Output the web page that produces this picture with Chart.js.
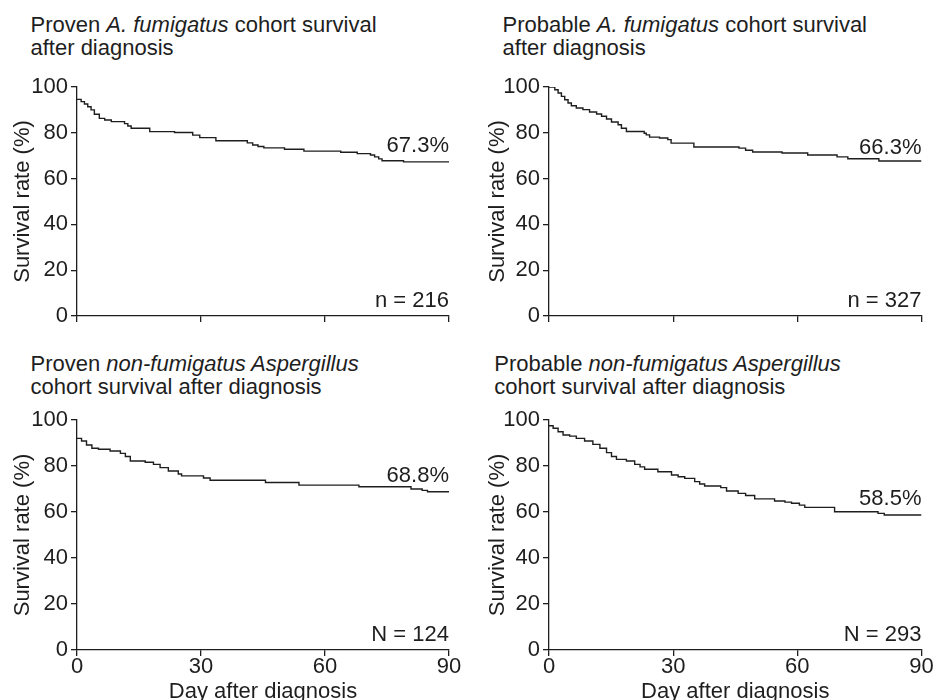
<!DOCTYPE html>
<html>
<head>
<meta charset="utf-8">
<script src="https://cdn.jsdelivr.net/npm/chart.js@4.4.0/dist/chart.umd.min.js"></script>
<style>
  html, body { margin: 0; padding: 0; background: #fff; overflow: hidden; width: 933px; height: 700px; }
  .panel-title { position: absolute; font: 22px/23px "Liberation Sans", Arial, sans-serif; color: #1e1e1e; white-space: nowrap; }
  canvas { position: absolute; }
</style>
</head>
<body>

<div class="panel-title" style="left:30.5px; top:12.6px">Proven <i>A. fumigatus</i> cohort survival<br>after diagnosis</div>
<div class="panel-title" style="left:502.6px; top:12.6px">Probable <i>A. fumigatus</i> cohort survival<br>after diagnosis</div>
<div class="panel-title" style="left:30.5px; top:351.6px">Proven <i>non-fumigatus Aspergillus</i><br>cohort survival after diagnosis</div>
<div class="panel-title" style="left:494.3px; top:351.6px">Probable <i>non-fumigatus Aspergillus</i><br>cohort survival after diagnosis</div>

<canvas id="chart1" width="466" height="270" style="left:0; top:70px"></canvas>
<canvas id="chart2" width="480" height="270" style="left:466px; top:70px"></canvas>
<canvas id="chart3" width="466" height="305" style="left:0; top:400px"></canvas>
<canvas id="chart4" width="480" height="305" style="left:466px; top:400px"></canvas>

<script>
// axis ticks
var xTicks = [0, 30, 60, 90];
var yTicks = [0, 20, 40, 60, 80, 100];

// proven A. fumigatus (day, survival %)
var provenFumDays = [0, 1, 1.8, 2.6, 3.4, 4.2, 5.4, 6.7, 8.3, 11.5, 12.3, 13.1, 17.6, 23.6, 28, 29.7, 33.6, 41.2, 42.5, 43.8, 45.2, 50.2, 54.9, 63.8, 67.8, 71, 72, 73, 73.8, 79, 90];
var provenFumSurv = [94.6, 93.6, 92.6, 91.4, 90.0, 88.1, 86.3, 85.6, 84.9, 84.0, 83.0, 82.0, 80.5, 80.1, 79.0, 77.9, 76.5, 75.6, 74.7, 74.0, 73.4, 72.8, 72.0, 71.5, 70.9, 70.3, 69.5, 68.6, 67.8, 67.3, 67.3];

// probable A. fumigatus
var probableFumDays = [0, 1.4, 2.2, 3.0, 3.8, 4.6, 5.4, 6.6, 8.2, 9.8, 11.5, 12.7, 13.9, 15.1, 16.7, 17.5, 18.7, 23.0, 23.5, 24.3, 26.7, 28.7, 29.5, 35.0, 45.9, 47.5, 49.2, 56.3, 62.5, 69.6, 72.2, 79.7, 90];
var probableFumSurv = [100, 98.8, 97.4, 95.9, 94.4, 93.0, 91.8, 90.8, 90.1, 89.1, 88.2, 87.2, 86.0, 84.7, 83.5, 82.0, 80.6, 79.8, 79.1, 78.1, 77.7, 77.0, 75.5, 73.8, 73.3, 72.4, 71.6, 71.2, 70.3, 69.5, 68.7, 67.7, 67.7];

// proven non-fumigatus Aspergillus
var provenNonDays = [0, 1.1, 2.3, 3.6, 5.2, 8.0, 10.5, 11.7, 12.9, 16.5, 18.5, 20.1, 22.1, 24.5, 25.3, 30.6, 32.2, 45.6, 53.7, 68.2, 80.8, 83.5, 84.8, 90];
var provenNonSurv = [92.0, 90.9, 89.1, 87.7, 87.3, 86.5, 85.5, 84.1, 82.2, 81.6, 80.7, 79.3, 77.8, 76.5, 75.7, 74.8, 73.8, 72.8, 71.7, 71.0, 70.0, 69.4, 68.8, 68.8];

// probable non-fumigatus Aspergillus
var probableNonDays = [0, 1.0, 2.2, 3.4, 5.0, 6.6, 8.6, 10.6, 12.3, 13.9, 15.1, 16.3, 18.7, 20.7, 22.0, 23.1, 26.3, 29.6, 31.2, 32.8, 35.2, 36.4, 37.6, 41.5, 42.9, 45.7, 47.5, 49.7, 54.5, 57.0, 58.6, 60.5, 61.8, 69.0, 79.5, 81.0, 90];
var probableNonSurv = [97.5, 96.4, 94.9, 93.5, 93.0, 92.0, 90.9, 89.4, 87.7, 85.8, 84.1, 82.9, 82.2, 80.7, 79.6, 78.6, 77.5, 76.1, 75.3, 74.6, 73.2, 72.2, 71.3, 70.6, 69.1, 68.1, 67.2, 65.7, 64.8, 64.3, 63.8, 63.0, 62.0, 60.1, 59.4, 58.7, 58.7];

// text in the corners
var endLabels = ['67.3%', '66.3%', '68.8%', '58.5%'];
var endValues = [67.3, 66.3, 68.8, 58.5];
var sizeLabels = ['n = 216', 'n = 327', 'N = 124', 'N = 293'];

var ink = '#1e1e1e';
var family = '"Liberation Sans", Arial, sans-serif';

// writes the final % and the cohort size inside the plot
var cornerText = {
  id: 'cornerText',
  afterDatasetsDraw: function (chart, args, opts) {
    var ctx = chart.ctx;
    var xs = chart.scales.x, ys = chart.scales.y;
    ctx.save();
    ctx.font = '22px ' + family;
    ctx.fillStyle = ink;
    ctx.textAlign = 'right';
    ctx.textBaseline = 'alphabetic';
    ctx.fillText(opts.end, xs.right, ys.getPixelForValue(opts.endValue) - 10);
    ctx.fillText(opts.n, xs.right, ys.getPixelForValue(0) - 9);
    ctx.restore();
  }
};

function makePanel(canvasId, days, surv, idx, look) {
  var points = days.map(function (d, i) { return { x: d, y: surv[i] }; });

  return new Chart(canvasId, {
    type: 'line',
    data: {
      datasets: [{
        data: points,
        stepped: true,
        borderColor: ink,
        borderWidth: 1.4,
        pointRadius: 0,
        fill: false
      }]
    },
    options: {
      responsive: false,
      animation: false,
      events: [],
      layout: { padding: { left: 0, top: look.top, right: look.right, bottom: 0 } },
      plugins: {
        legend: { display: false },
        tooltip: { enabled: false },
        cornerText: { end: endLabels[idx], endValue: endValues[idx], n: sizeLabels[idx] }
      },
      scales: {
        x: {
          type: 'linear',
          min: 0,
          max: 90,
          afterBuildTicks: function (s) { s.ticks = xTicks.map(function (v) { return { value: v }; }); },
          afterFit: function (s) { s.height = look.xHeight; },
          grid: { display: true, drawOnChartArea: false, drawTicks: true, tickLength: 6, color: ink, lineWidth: 1.3 },
          border: { display: true, color: ink, width: 1.3 },
          ticks: {
            display: look.xLabels,
            color: ink,
            font: { family: family, size: 22, lineHeight: 1 },
            padding: 0,
            maxRotation: 0,
            autoSkip: false
          },
          title: {
            display: look.xLabels,
            text: 'Day after diagnosis',
            color: ink,
            font: { family: family, size: 22 },
            padding: { top: 0, bottom: 0 }
          }
        },
        y: {
          min: 0,
          max: 100,
          afterBuildTicks: function (s) { s.ticks = yTicks.map(function (v) { return { value: v }; }); },
          afterFit: function (s) { s.width = look.yWidth; },
          grid: { display: true, drawOnChartArea: false, drawTicks: true, tickLength: 6, color: ink, lineWidth: 1.3 },
          border: { display: true, color: ink, width: 1.3 },
          ticks: { color: ink, font: { family: family, size: 22 }, padding: 3, autoSkip: false },
          title: {
            display: true,
            text: 'Survival rate (%)',
            color: ink,
            font: { family: family, size: 22 },
            padding: { top: look.yTitlePad, bottom: 0 }
          }
        }
      }
    },
    plugins: [cornerText]
  });
}

// top row: no day labels, bottom row: day labels + title
var topLeft = { top: 17, right: 17, yWidth: 77, xHeight: 24, xLabels: false, yTitlePad: 10 };
var topRight = { top: 17, right: 24.5, yWidth: 83, xHeight: 24, xLabels: false, yTitlePad: 18.5 };
var bottomLeft = { top: 20, right: 17, yWidth: 77, xHeight: 55, xLabels: true, yTitlePad: 10 };
var bottomRight = { top: 20, right: 24.5, yWidth: 83, xHeight: 55, xLabels: true, yTitlePad: 18.5 };

makePanel('chart1', provenFumDays, provenFumSurv, 0, topLeft);
makePanel('chart2', probableFumDays, probableFumSurv, 1, topRight);
makePanel('chart3', provenNonDays, provenNonSurv, 2, bottomLeft);
makePanel('chart4', probableNonDays, probableNonSurv, 3, bottomRight);
</script>
</body>
</html>
